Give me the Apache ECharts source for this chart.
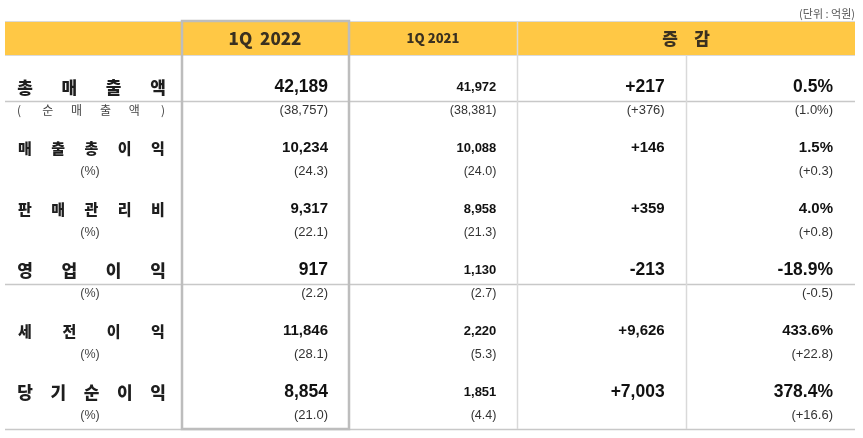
<!DOCTYPE html>
<html><head><meta charset="utf-8">
<script src="https://cdn.jsdelivr.net/npm/echarts@6/dist/echarts.min.js"></script>
<style>html,body{margin:0;padding:0;background:#fff}#c{width:863px;height:438px}</style>
</head><body><div id="c"></div>
<script>
// ---- data ----
var unitLabel = '(단위 : 억원)';
var headers = ['1Q  2022', '1Q 2021', '증', '감'];
var rowLabels = ['총매출액', '매출총이익', '판매관리비', '영업이익', '세전이익', '당기순이익'];
var subLabels = ['(순매출액)', '(%)', '(%)', '(%)', '(%)', '(%)'];
var q2022 = ['42,189', '10,234', '9,317', '917', '11,846', '8,854'];
var q2022Sub = ['(38,757)', '(24.3)', '(22.1)', '(2.2)', '(28.1)', '(21.0)'];
var q2021 = ['41,972', '10,088', '8,958', '1,130', '2,220', '1,851'];
var q2021Sub = ['(38,381)', '(24.0)', '(21.3)', '(2.7)', '(5.3)', '(4.4)'];
var diffAbs = ['+217', '+146', '+359', '-213', '+9,626', '+7,003'];
var diffAbsSub = ['(+376)', '', '', '', '', ''];
var diffPct = ['0.5%', '1.5%', '4.0%', '-18.9%', '433.6%', '378.4%'];
var diffPctSub = ['(1.0%)', '(+0.3)', '(+0.8)', '(-0.5)', '(+22.8)', '(+16.6)'];

// ---- layout / style ----
var majorRows = [true, false, false, true, false, true];
var ROW_TOP = 87, ROW_STEP = 61, SUB_OFF = 0.385;
var COL_RIGHT0 = 328, COL_RIGHT3 = 833;
var LEFT = 5, RIGHT = 855;
var AR = '"Liberation Sans", Arial, "Noto Sans CJK KR", sans-serif';
var KR = '"Noto Sans CJK KR", sans-serif';
var YELLOW = '#FFC845';
var LINE = '#C8C8C8';

var chart = echarts.init(document.getElementById('c'), null, {renderer: 'canvas'});

var columns = [[q2022, q2022Sub], [q2021, q2021Sub], [diffAbs, diffAbsSub], [diffPct, diffPctSub]];
var cellData = [];
columns.forEach(function (col, ci) {
  for (var r = 0; r < rowLabels.length; r++) {
    cellData.push([ci, r, col[0][r], 'main', r]);
    if (col[1][r]) cellData.push([ci, r + SUB_OFF, col[1][r], 'sub', r]);
  }
});

function cellFont(ci, kind, r) {
  if (kind === 'sub') return (ci === 1 ? '12.5px ' : '13px ') + AR;
  if (ci === 1) return 'bold 13px ' + AR;
  return 'bold ' + (majorRows[r] ? '17.5px ' : '15px ') + AR;
}

function rowY(r) { return ROW_TOP + r * ROW_STEP; }

var g = [];
// header band
g.push({type: 'rect', shape: {x: LEFT, y: 21, width: RIGHT - LEFT, height: 35}, style: {fill: '#DADADA'}, z: 1});
g.push({type: 'rect', shape: {x: LEFT, y: 22, width: RIGHT - LEFT, height: 33}, style: {fill: YELLOW}, z: 2});
// horizontal lines
[101, 284, 429].forEach(function (y) {
  g.push({type: 'line', shape: {x1: LEFT, y1: y + 0.5, x2: RIGHT, y2: y + 0.5}, style: {stroke: LINE, lineWidth: 1.5}, z: 3});
});
// vertical lines
g.push({type: 'line', shape: {x1: 517.5, y1: 22, x2: 517.5, y2: 429}, style: {stroke: '#D9D9D9', lineWidth: 1.5}, z: 3});
g.push({type: 'line', shape: {x1: 686.5, y1: 56, x2: 686.5, y2: 429}, style: {stroke: '#D9D9D9', lineWidth: 1.5}, z: 3});
// 1Q 2022 box
g.push({type: 'rect', shape: {x: 182, y: 21, width: 167, height: 408}, style: {fill: 'none', stroke: '#BDBDBD', lineWidth: 2.5}, z: 4});
// unit label
g.push({type: 'text', x: 855, y: 14, style: {text: unitLabel, font: '11px ' + KR, fill: '#555', align: 'right', verticalAlign: 'middle'}, z: 5});
// headers
g.push({type: 'text', x: 265, y: 38.5, style: {text: headers[0], font: '900 17px ' + KR, fill: '#3A3020', align: 'center', verticalAlign: 'middle'}, z: 5});
g.push({type: 'text', x: 433, y: 38.5, style: {text: headers[1], font: '900 13px ' + KR, fill: '#3A3020', align: 'center', verticalAlign: 'middle'}, z: 5});
g.push({type: 'text', x: 670, y: 38.5, style: {text: headers[2], font: '900 17px ' + KR, fill: '#3A3020', align: 'center', verticalAlign: 'middle'}, z: 5});
g.push({type: 'text', x: 702, y: 38.5, style: {text: headers[3], font: '900 17px ' + KR, fill: '#3A3020', align: 'center', verticalAlign: 'middle'}, z: 5});

// row labels (justified letters)
function spread(chars, x0, x1, y, font, fill) {
  var n = chars.length;
  for (var i = 0; i < n; i++) {
    var x = n === 1 ? (x0 + x1) / 2 : x0 + (x1 - x0) * i / (n - 1);
    g.push({type: 'text', x: x, y: y, style: {text: chars[i], font: font, fill: fill, align: 'center', verticalAlign: 'middle'}, z: 5});
  }
}
rowLabels.forEach(function (lab, r) {
  spread(lab.split(''), 25, 158, rowY(r) + 0.5, '900 ' + (majorRows[r] ? '17px ' : '15px ') + KR, '#1E1E1E');
  var sub = subLabels[r];
  var sy = rowY(r) + SUB_OFF * ROW_STEP;
  if (sub === '(%)') {
    g.push({type: 'text', x: 90, y: sy, style: {text: sub, font: '12.5px ' + AR, fill: '#444', align: 'center', verticalAlign: 'middle'}, z: 5});
  } else {
    spread(sub.split(''), 19, 163, sy, '12px ' + KR, '#444');
  }
});

var option = {
  animation: false,
  backgroundColor: '#fff',
  grid: {left: COL_RIGHT0, right: 863 - COL_RIGHT3, top: ROW_TOP, bottom: 438 - rowY(5)},
  xAxis: {type: 'value', min: 0, max: 3, show: false},
  yAxis: {type: 'value', min: 0, max: 5, inverse: true, show: false},
  graphic: g,
  series: [{
    type: 'custom',
    clip: false,
    z: 10,
    data: cellData,
    renderItem: function (params, api) {
      var p = api.coord([api.value(0), api.value(1)]);
      var d = cellData[params.dataIndex];
      return {
        type: 'text', x: p[0], y: p[1],
        style: {text: d[2], font: cellFont(d[0], d[3], d[4]), fill: d[3] === 'sub' ? '#333' : '#111', align: 'right', verticalAlign: 'middle'}
      };
    }
  }]
};
chart.setOption(option);
</script></body></html>
